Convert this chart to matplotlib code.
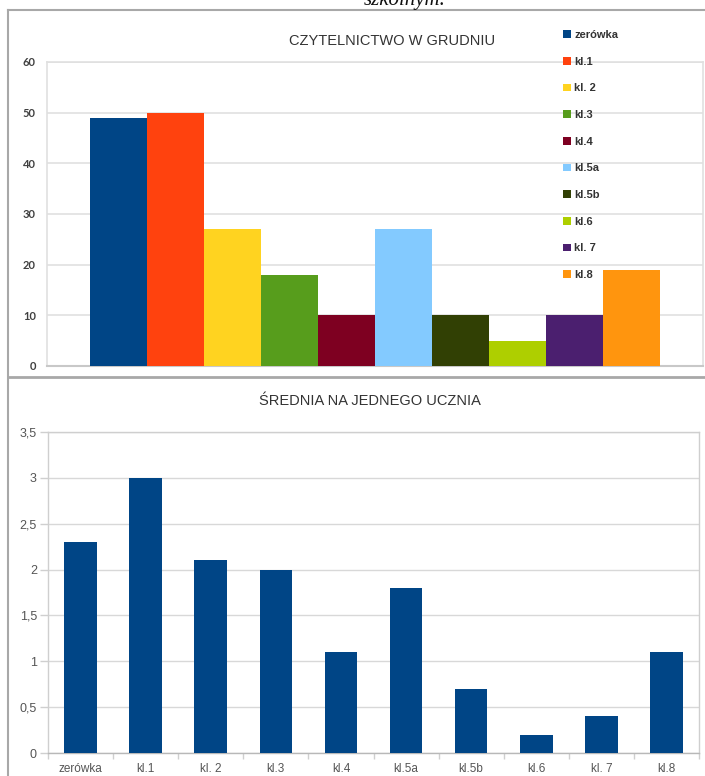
import matplotlib
matplotlib.use("Agg")
import matplotlib.pyplot as plt
import numpy as np
from matplotlib.lines import Line2D

categories = ["zerówka", "kl.1", "kl. 2", "kl.3", "kl.4", "kl.5a", "kl.5b", "kl.6", "kl. 7", "kl.8"]
readers_december = [49, 50, 27, 18, 10, 27, 10, 5, 10, 19]
avg_per_student = [2.3, 3.0, 2.1, 2.0, 1.1, 1.8, 0.7, 0.2, 0.4, 1.1]
top_ticks = [0, 10, 20, 30, 40, 50, 60]
bottom_ticks = [0, 0.5, 1, 1.5, 2, 2.5, 3, 3.5]
bottom_tick_labels = ["0", "0,5", "1", "1,5", "2", "2,5", "3", "3,5"]
series_colors = ["#004586", "#ff420e", "#ffd320", "#579d1c", "#7e0021",
                 "#83caff", "#314004", "#aecf00", "#4b1f6f", "#ff950e"]

W, H = 705, 776
fig = plt.figure(figsize=(W / 100, H / 100), dpi=100)
fig.patch.set_facecolor("white")

def fx(px):
    return px / W

def fy(py):
    return 1 - py / H

narrow = ["Liberation Sans Narrow", "Liberation Sans", "DejaVu Sans"]

# caption (partly above the page edge, as in the reference)
fig.text(fx(405), fy(5), "szkolnym.", family=["Liberation Serif", "DejaVu Serif"],
         style="italic", fontsize=15, ha="center", va="baseline", color="#111")

# frame lines
fig.add_artist(Line2D([fx(8), fx(8)], [fy(10), fy(776)], color="#a8a8a8", lw=1.5))
fig.add_artist(Line2D([fx(8), fx(705)], [fy(10), fy(10)], color="#a8a8a8", lw=1.5))
fig.add_artist(Line2D([fx(8), fx(705)], [fy(377), fy(377)], color="#a8a8a8", lw=2.0))

# ---------------- top chart ----------------
ax1 = fig.add_axes([fx(47), fy(366), fx(703) - fx(47), fy(62) - fy(366)])
x = np.arange(len(categories))
for i, (cat, val, col) in enumerate(zip(categories, readers_december, series_colors)):
    ax1.bar(x[i], val, width=1.0, color=col, label=cat, zorder=3, linewidth=0)
ax1.set_ylim(0, 60)
ax1.set_xlim(-1.254, 10.254)
ax1.set_yticks(top_ticks)
ax1.set_xticks([])
ax1.yaxis.grid(True, color="#e0e0e0", lw=1.2, zorder=0)
for s in ["left", "right", "top"]:
    ax1.spines[s].set_color("#e0e0e0")
    ax1.spines[s].set_linewidth(1.2)
ax1.spines["bottom"].set_color("#c8c8c8")
ax1.spines["bottom"].set_linewidth(1.5)
ax1.tick_params(axis="y", length=0, pad=8, labelsize=8, labelcolor="#404040")
for lab in ax1.get_yticklabels():
    lab.set_fontweight("bold")
    lab.set_family(["Lato", "DejaVu Sans"])
fig.text(fx(392), fy(41), "CZYTELNICTWO W GRUDNIU", family=narrow, fontsize=10.5,
         ha="center", va="center", color="#333")
leg = ax1.legend(loc="upper left", bbox_to_anchor=(fx(563), fy(30)),
                 bbox_transform=fig.transFigure, frameon=False,
                 handlelength=0.7, handleheight=0.7, handletextpad=0.3,
                 labelspacing=1.5, borderaxespad=0, borderpad=0,
                 prop={"family": narrow, "size": 8, "weight": "bold"})
for t in leg.get_texts():
    t.set_color("#333")

# ---------------- bottom chart ----------------
ax2 = fig.add_axes([fx(48), fy(753), fx(699) - fx(48), fy(432) - fy(753)])
ax2.bar(x, avg_per_student, width=0.5, color="#004586", zorder=3, linewidth=0)
ax2.set_ylim(0, 3.5)
ax2.set_xlim(-0.5, len(categories) - 0.5)
ax2.set_yticks(bottom_ticks)
ax2.set_yticklabels(bottom_tick_labels)
ax2.set_xticks(x)
ax2.set_xticklabels(categories)
ax2.set_xticks(np.arange(-0.5, len(categories), 1.0), minor=True)
ax2.yaxis.grid(True, color="#d8d8d8", lw=1.0, zorder=0)
for s in ["left", "right", "top", "bottom"]:
    ax2.spines[s].set_color("#cfcfcf")
    ax2.spines[s].set_linewidth(1.0)
ax2.spines["bottom"].set_color("#b8b8b8")
ax2.tick_params(axis="y", length=6, width=1, color="#cfcfcf", pad=2,
                labelsize=9, labelcolor="#555")
ax2.tick_params(axis="x", which="major", length=0, pad=7, labelsize=8.5, labelcolor="#555")
ax2.tick_params(axis="x", which="minor", length=4, width=1, color="#cfcfcf")
for lab in ax2.get_yticklabels() + ax2.get_xticklabels():
    lab.set_family(narrow)
fig.text(fx(370), fy(401), "ŚREDNIA NA JEDNEGO UCZNIA", family=narrow, fontsize=10.5,
         ha="center", va="center", color="#333")

fig.savefig("out.png", dpi=100, facecolor="white")
